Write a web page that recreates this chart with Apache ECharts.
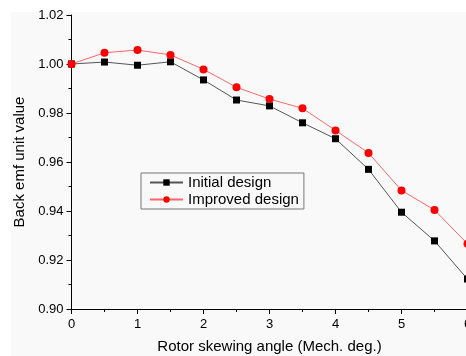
<!DOCTYPE html>
<html>
<head>
<meta charset="utf-8">
<script src="https://cdn.jsdelivr.net/npm/echarts@6/dist/echarts.min.js"></script>
<style>
  html, body { margin: 0; padding: 0; background: #fff; }
  #backEmfChart { width: 466px; height: 356px; }
</style>
</head>
<body>
<div id="backEmfChart"></div>
<script>
const skewAngles = [0, 0.5, 1, 1.5, 2, 2.5, 3, 3.5, 4, 4.5, 5, 5.5, 6];
const initialDesign = [1.0, 1.0008, 0.9995, 1.0009, 0.9935, 0.9853, 0.9829, 0.976, 0.9695, 0.957, 0.9395, 0.9278, 0.9122];
const improvedDesign = [1.0, 1.0046, 1.0057, 1.0037, 0.9978, 0.9905, 0.9857, 0.9819, 0.9729, 0.9637, 0.9484, 0.9404, 0.9266];

const font = "Liberation Sans, Arial, sans-serif";
const chart = echarts.init(document.getElementById("backEmfChart"));

const axisCommon = {
  axisLine: { show: true, lineStyle: { color: "#000", width: 1 } },
  axisTick: { show: true, inside: false, length: 5, lineStyle: { color: "#000" } },
  minorTick: { show: true, splitNumber: 2, length: 3, lineStyle: { color: "#000" } },
  splitLine: { show: false },
  nameLocation: "middle",
  nameTextStyle: { color: "#000", fontSize: 15, fontFamily: font },
};

chart.setOption({
  animation: false,
  graphic: [
    {
      type: "rect",
      left: 11,
      top: 12,
      shape: { width: 460, height: 350 },
      style: { fill: "#f9f9f9" },
      z: -10,
      silent: true,
    },
  ],
  grid: { left: 71.5, top: 15, right: -1.5, bottom: 47, outerBoundsMode: "none", containLabel: false },
  legend: {
    orient: "vertical",
    left: 141,
    top: 173,
    padding: [2, 5, 2, 8],
    itemGap: 2,
    itemWidth: 33,
    itemHeight: 8,
    borderColor: "#777",
    borderWidth: 1,
    borderRadius: 0,
    textStyle: { color: "#000", fontSize: 15, fontFamily: font },
    data: ["Initial design", "Improved design"],
  },
  xAxis: {
    ...axisCommon,
    type: "value",
    min: 0,
    max: 6,
    interval: 1,
    name: "Rotor skewing angle (Mech. deg.)",
    nameGap: 30,
    axisLabel: { color: "#000", fontSize: 13, fontFamily: font, margin: 9 },
  },
  yAxis: {
    ...axisCommon,
    type: "value",
    min: 0.9,
    max: 1.02,
    interval: 0.02,
    name: "Back emf unit value",
    nameGap: 38,
    axisLabel: {
      color: "#000",
      fontSize: 13,
      fontFamily: font,
      margin: 8,
      formatter: (v) => v.toFixed(2),
    },
  },
  series: [
    {
      name: "Initial design",
      type: "line",
      data: skewAngles.map((a, i) => [a, initialDesign[i]]),
      symbol: "rect",
      symbolSize: 7,
      itemStyle: { color: "#000" },
      lineStyle: { color: "#555", width: 1 },
    },
    {
      name: "Improved design",
      type: "line",
      data: skewAngles.map((a, i) => [a, improvedDesign[i]]),
      symbol: "circle",
      symbolSize: 8,
      itemStyle: { color: "#ff0000" },
      lineStyle: { color: "#ff6666", width: 1 },
    },
  ],
});
</script>
</body>
</html>
